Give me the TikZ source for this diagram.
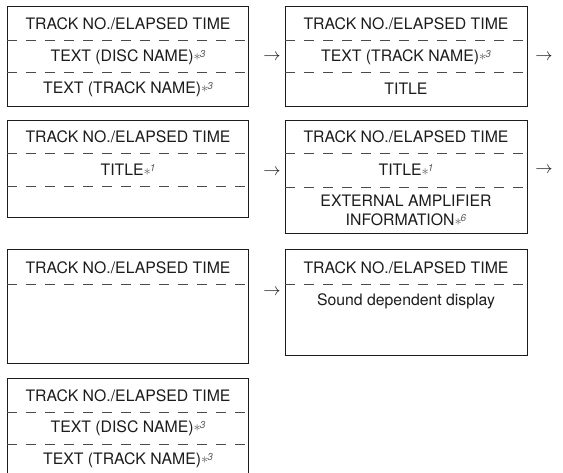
\documentclass[tikz,border=0pt]{standalone}
\usepackage{fontspec}
\setmainfont{TeX Gyre Heros}
\usepackage{xcolor}
\definecolor{ink}{HTML}{1C1C1C}
\definecolor{dash}{HTML}{4A4A4A}
\definecolor{notec}{HTML}{5A5A5A}
\newcommand{\fnote}[1]{\textcolor{notec}{\fontsize{14}{14}\selectfont\raisebox{0.1ex}{$\ast$}\kern-1pt\raisebox{0.55ex}{\fontsize{10}{10}\selectfont\itshape #1}}}
\begin{document}
\begin{tikzpicture}[x=1pt,y=-1pt,
  panel/.style={draw=ink,line width=1pt},
  sep/.style={draw=dash,line width=1pt,dash pattern=on 10pt off 9pt},
  lbl/.style={text=ink,font=\fontsize{15.8}{17}\selectfont,inner sep=0pt,align=center},
  arr/.style={text=ink,font=\fontsize{19}{19}\selectfont,inner sep=0pt}]
\useasboundingbox (0,0) rectangle (563,472);
% ---- box 1
\draw[panel] (7,6) rectangle (248,106);
\coordinate (b1l1) at (7,40); \coordinate (b1r1) at (248,40);
\coordinate (b1l2) at (7,72); \coordinate (b1r2) at (248,72);
\draw[sep] (b1l1) -- (b1r1); \draw[sep] (b1l2) -- (b1r2);
\node[lbl] (t11) at (128,24) {TRACK NO./ELAPSED TIME};
\node[lbl] (t12) at (128,57) {TEXT (DISC NAME)\fnote{3}};
\node[lbl] (t13) at (128,89) {TEXT (TRACK NAME)\fnote{3}};
\node[arr] (a1) at (272,57) {$\rightarrow$};
% ---- box 2
\draw[panel] (285,6) rectangle (527,106);
\coordinate (b2l1) at (285,40); \coordinate (b2r1) at (527,40);
\coordinate (b2l2) at (285,72); \coordinate (b2r2) at (527,72);
\draw[sep] (b2l1) -- (b2r1); \draw[sep] (b2l2) -- (b2r2);
\node[lbl] (t21) at (406,24) {TRACK NO./ELAPSED TIME};
\node[lbl] (t22) at (406,57) {TEXT (TRACK NAME)\fnote{3}};
\node[lbl] (t23) at (406,89) {TITLE};
\node[arr] (a2) at (544,57) {$\rightarrow$};
% ---- box 3
\draw[panel] (7,120) rectangle (248,217);
\coordinate (b3l1) at (7,153); \coordinate (b3r1) at (248,153);
\coordinate (b3l2) at (7,186); \coordinate (b3r2) at (248,186);
\draw[sep] (b3l1) -- (b3r1); \draw[sep] (b3l2) -- (b3r2);
\node[lbl] (t31) at (128,137) {TRACK NO./ELAPSED TIME};
\node[lbl] (t32) at (128,170) {TITLE\fnote{1}};
\node[arr] (a3) at (272,172) {$\rightarrow$};
% ---- box 4
\draw[panel] (285,120) rectangle (527,233);
\coordinate (b4l1) at (285,153); \coordinate (b4r1) at (527,153);
\coordinate (b4l2) at (285,187); \coordinate (b4r2) at (527,187);
\draw[sep] (b4l1) -- (b4r1); \draw[sep] (b4l2) -- (b4r2);
\node[lbl] (t41) at (406,137) {TRACK NO./ELAPSED TIME};
\node[lbl] (t42) at (406,170) {TITLE\fnote{1}};
\node[lbl] (t43) at (406,201) {EXTERNAL AMPLIFIER};
\node[lbl] (t44) at (406,220) {INFORMATION\fnote{6}};
\node[arr] (a4) at (544,170) {$\rightarrow$};
% ---- box 5
\draw[panel] (7,249) rectangle (248,363);
\coordinate (b5l1) at (7,284); \coordinate (b5r1) at (250,284);
\draw[sep] (b5l1) -- (b5r1);
\node[lbl] (t51) at (128,268) {TRACK NO./ELAPSED TIME};
\node[arr] (a5) at (272,292) {$\rightarrow$};
% ---- box 6
\draw[panel] (285,249) rectangle (527,355);
\coordinate (b6l1) at (285,284); \coordinate (b6r1) at (527,284);
\draw[sep] (b6l1) -- (b6r1);
\node[lbl] (t61) at (406,268) {TRACK NO./ELAPSED TIME};
\node[lbl] (t62) at (406,301) {Sound dependent display};
% ---- box 7 (cut by the page bottom)
\draw[panel] (7,480) -- (7,378) -- (248,378) -- (248,480);
\coordinate (b7l1) at (7,412); \coordinate (b7r1) at (248,412);
\coordinate (b7l2) at (7,444); \coordinate (b7r2) at (248,444);
\draw[sep] (b7l1) -- (b7r1); \draw[sep] (b7l2) -- (b7r2);
\node[lbl] (t71) at (128,396) {TRACK NO./ELAPSED TIME};
\node[lbl] (t72) at (128,428) {TEXT (DISC NAME)\fnote{3}};
\node[lbl] (t73) at (128,460) {TEXT (TRACK NAME)\fnote{3}};
\end{tikzpicture}
\end{document}
